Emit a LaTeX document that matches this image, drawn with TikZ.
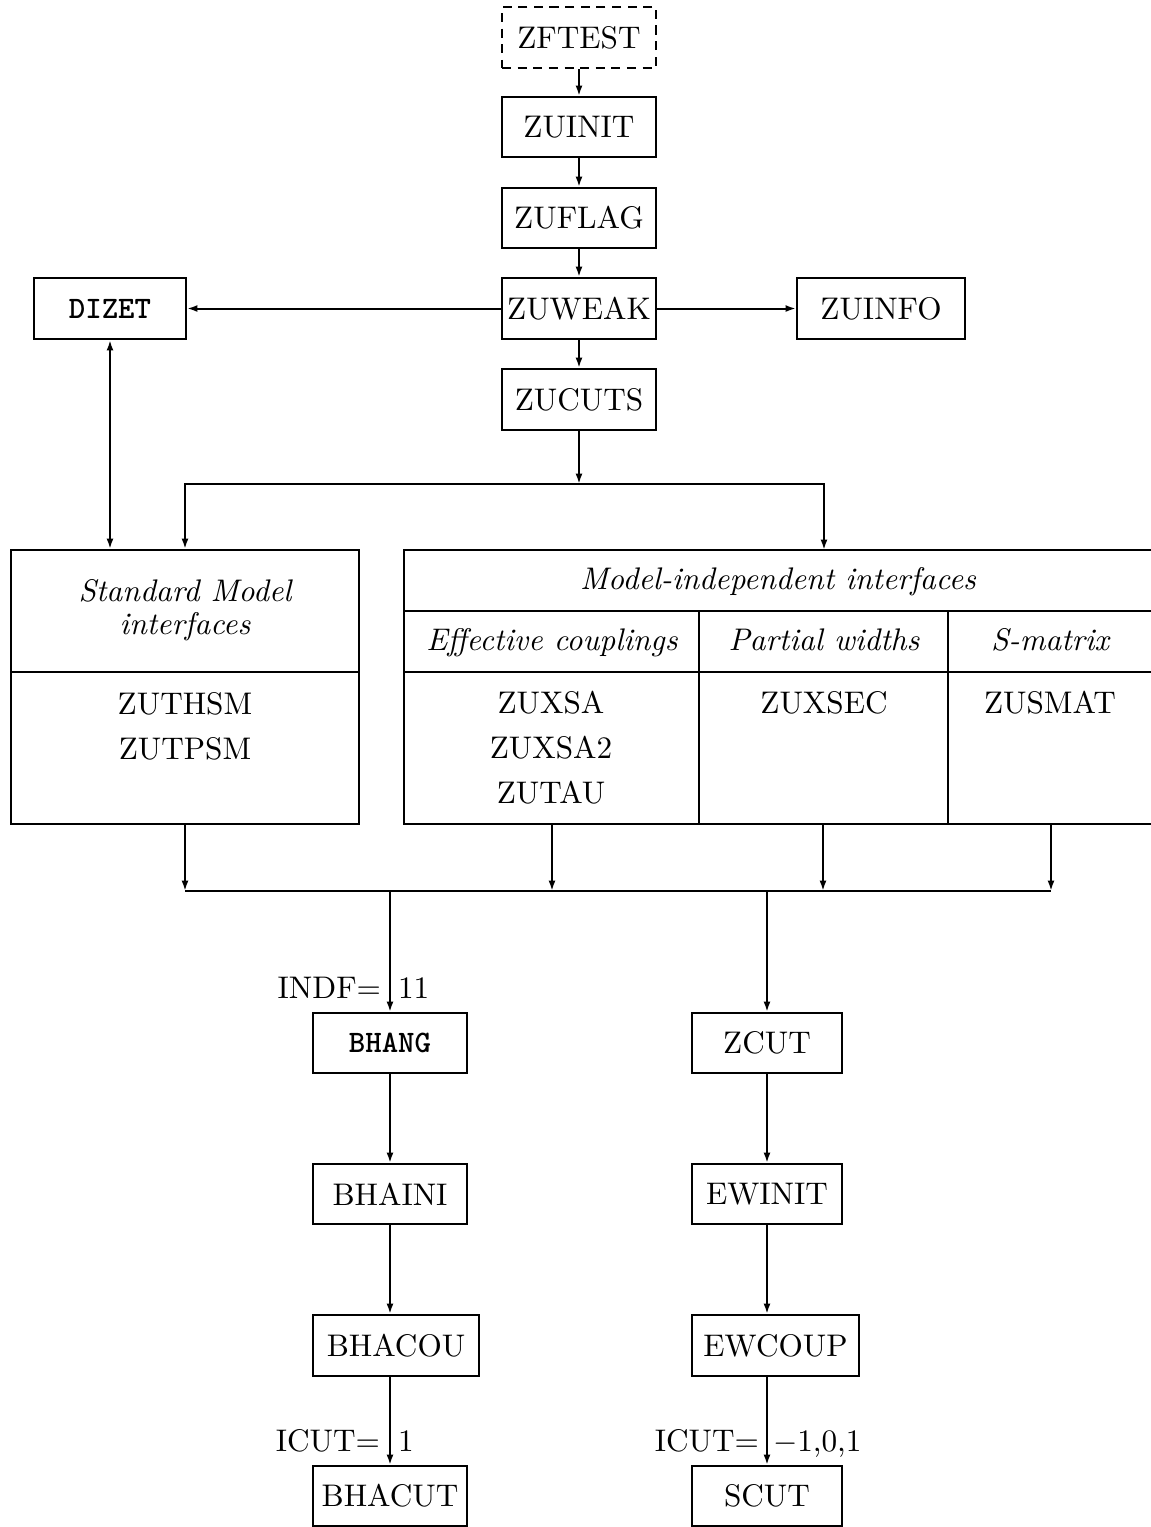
\documentclass[tikz,border=0pt]{standalone}
\usetikzlibrary{arrows.meta}
\newcommand\bx[7]{\node[box,#1,minimum width={(#5-#3)*0.32pt},minimum height={(#6-#4)*0.32pt}] (#2) at ({(#3+#5)/2},{(#4+#6)/2}) {#7};}
\begin{document}
\begin{tikzpicture}[x=0.32pt,y=-0.32pt,line width=0.64pt,
  >={Latex[length=3.3pt,width=2.2pt]},
  box/.style={draw,inner sep=0pt},
  txt/.style={inner sep=0pt,anchor=base},
  dashbox/.style={dash pattern=on 2.9pt off 2.1pt}]
\useasboundingbox (0,0) rectangle (1151,1527);
% top chain
\bx{dashbox}{zftest}{502}{7}{656}{68}{ZFTEST}
\bx{}{zuinit}{502}{97}{656}{157}{ZUINIT}
\bx{}{zuflag}{502}{188}{656}{248}{ZUFLAG}
\bx{}{zuweak}{502}{278}{656}{339}{ZUWEAK}
\bx{}{zucuts}{502}{369}{656}{430}{ZUCUTS}
\bx{}{dizet}{34}{278}{186}{339}{\ttfamily\bfseries DIZET}
\bx{}{zuinfo}{797}{278}{965}{339}{ZUINFO}
\draw[->] (zftest.south) -- (zuinit.north);
\draw[->] (zuinit.south) -- (zuflag.north);
\draw[->] (zuflag.south) -- (zuweak.north);
\draw[->] (zuweak.south) -- (zucuts.north);
\draw[->] (zuweak.west) -- (dizet.east);
\draw[->] (zuweak.east) -- (zuinfo.west);
% Standard Model box
\node[box,minimum width={348*0.32pt},minimum height={274*0.32pt}] (sm) at (185,687) {};
\draw (11,672) -- (359,672);
\node[txt] (smt1) at (185,601) {\itshape Standard Model};
\node[txt] (smt2) at (185,634) {\itshape interfaces};
\node[txt] (zuthsm) at (185,714) {ZUTHSM};
\node[txt] (zutpsm) at (185,759) {ZUTPSM};
% Model-independent box (continues past the right edge)
\draw (1151,550) -- (404,550) -- (404,824) -- (1151,824);
\draw (404,611) -- (1151,611);
\draw (404,672) -- (1151,672);
\draw (699,611) -- (699,824);
\draw (948,611) -- (948,824);
\coordinate (mitop) at (824,550);
\node[txt] (mit) at (778,589) {\itshape Model-independent interfaces};
\node[txt] (eff) at (552,650) {\itshape Effective couplings};
\node[txt] (pw) at (824,650) {\itshape Partial widths};
\node[txt] (smx) at (1050,650) {\itshape S-matrix};
\node[txt] (zuxsa) at (551,713) {ZUXSA};
\node[txt] (zuxsa2) at (551,758) {ZUXSA2};
\node[txt] (zutau) at (551,803) {ZUTAU};
\node[txt] (zuxsec) at (824,713) {ZUXSEC};
\node[txt] (zusmat) at (1050,713) {ZUSMAT};
% branching from ZUCUTS
\coordinate (br) at (579,484);
\draw[->] (zucuts.south) -- (br);
\draw[->] (br) -| (sm.north);
\draw[->] (br) -| (mitop);
\draw[<->] (dizet.south) -- (dizet.south |- sm.north);
% collecting line
\coordinate (e1) at (552,824);
\coordinate (e2) at (823,824);
\coordinate (e3) at (1051,824);
\coordinate (j0) at (185,891);
\coordinate (j1) at (552,891);
\coordinate (j2) at (823,891);
\coordinate (j3) at (1051,891);
\draw[->] (sm.south) -- (j0);
\draw[->] (e1) -- (j1);
\draw[->] (e2) -- (j2);
\draw[->] (e3) -- (j3);
\draw (j0) -- (j3);
\coordinate (jl) at (390,891);
\coordinate (jr) at (767,891);
% lower left chain
\bx{}{bhang}{313}{1013}{467}{1073}{\ttfamily\bfseries BHANG}
\bx{}{bhaini}{313}{1164}{467}{1224}{BHAINI}
\bx{}{bhacou}{313}{1315}{479}{1376}{BHACOU}
\bx{}{bhacut}{313}{1466}{467}{1526}{BHACUT}
\draw[->] (jl) -- (bhang.north);
\draw[->] (bhang.south) -- (bhaini.north);
\draw[->] (bhaini.south) -- (bhacou.north -| bhaini.south);
\draw[->] (bhacou.south -| bhaini.south) -- (bhacut.north);
% lower right chain
\bx{}{zcut}{692}{1013}{842}{1073}{ZCUT}
\bx{}{ewinit}{692}{1164}{842}{1224}{EWINIT}
\bx{}{ewcoup}{692}{1315}{859}{1376}{EWCOUP}
\bx{}{scut}{692}{1466}{842}{1526}{SCUT}
\draw[->] (jr) -- (zcut.north);
\draw[->] (zcut.south) -- (ewinit.north);
\draw[->] (ewinit.south) -- (ewcoup.north -| ewinit.south);
\draw[->] (ewcoup.south -| ewinit.south) -- (scut.north);
% labels
\node[txt,anchor=base east] (indf) at (382,998) {INDF=};
\node[txt,anchor=base west] (indfv) at (397,998) {11};
\node[txt,anchor=base east] (icl) at (381,1451) {ICUT=};
\node[txt,anchor=base west] (iclv) at (397,1451) {1};
\node[txt,anchor=base east] (icr) at (760,1451) {ICUT=};
\node[txt,anchor=base west] (icrv) at (772,1451) {$-1$,0,1};
\end{tikzpicture}
\end{document}
